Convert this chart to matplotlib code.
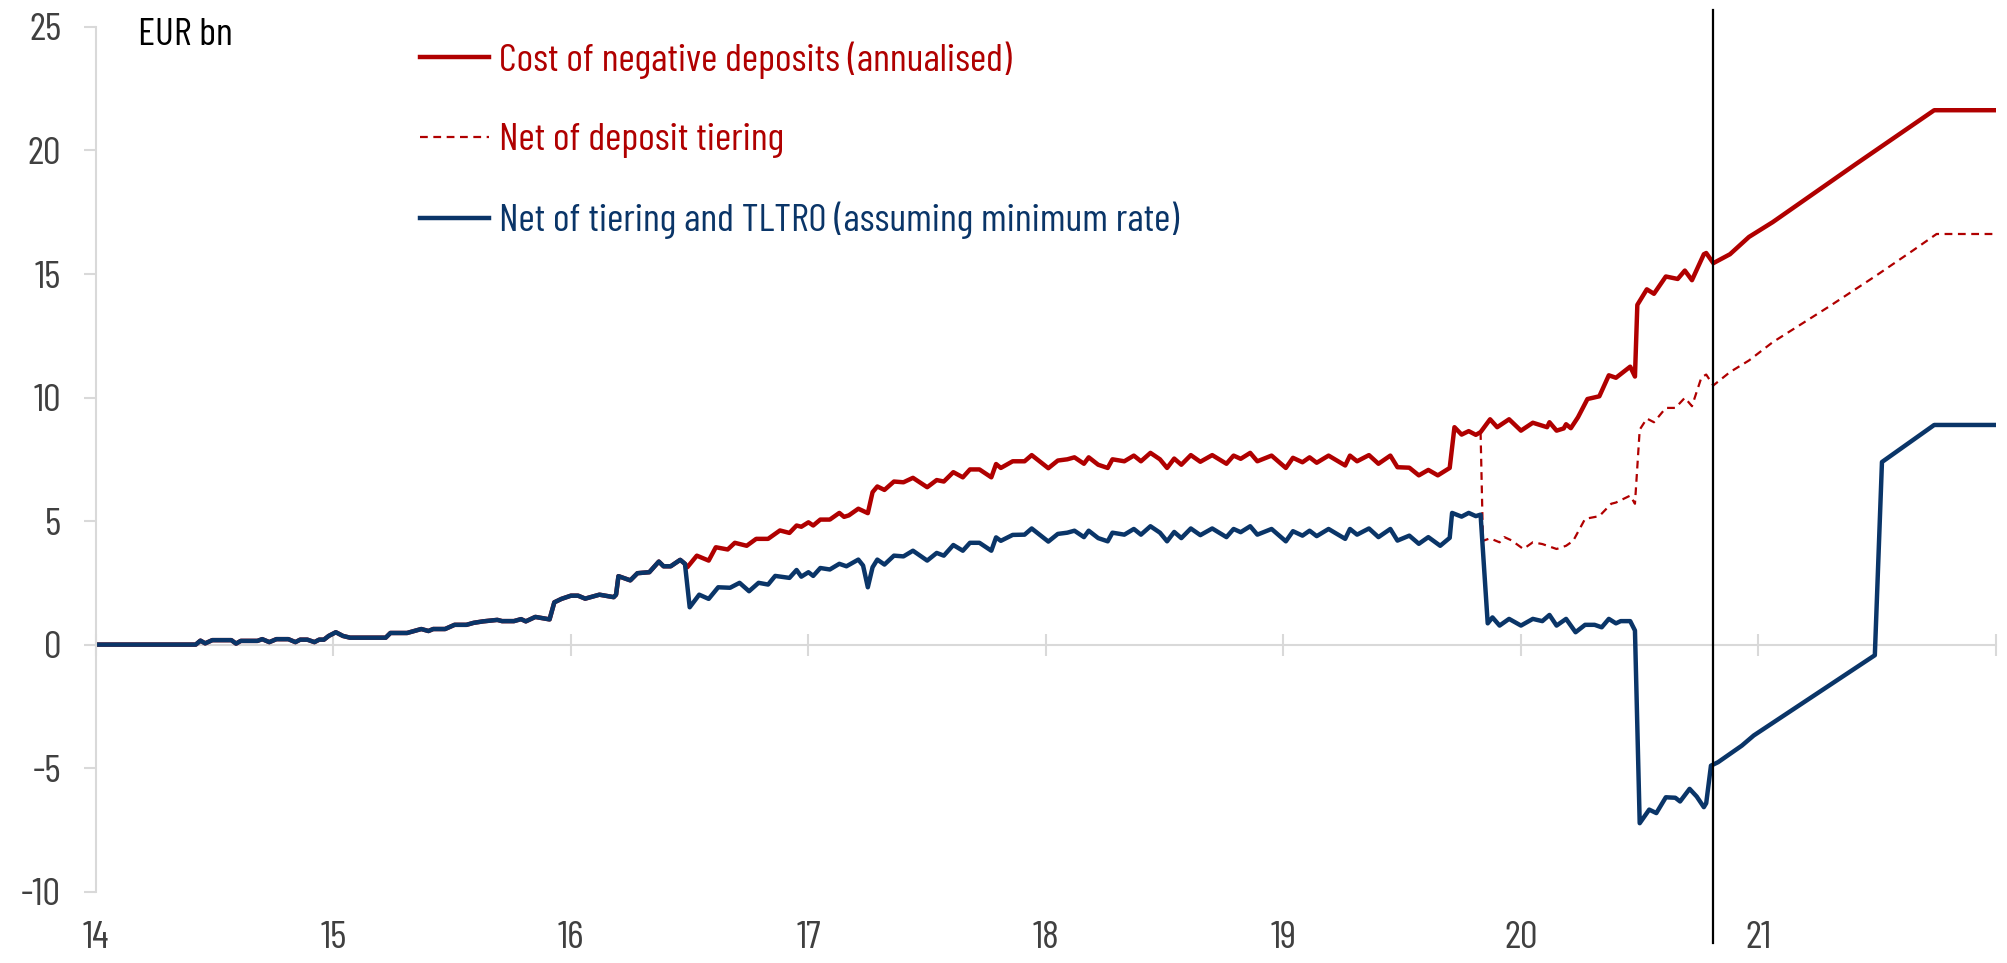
import matplotlib
matplotlib.use('Agg')
import matplotlib.pyplot as plt

plt.rcParams['font.family'] = ['Barlow Condensed', 'Roboto Condensed',
                               'IBM Plex Sans Condensed', 'DejaVu Sans']
plt.rcParams['axes.unicode_minus'] = False

RED = '#B00000'
BLUE = '#0A3568'
GREY = '#D9D9D9'
TXT = '#404040'
FS = 28.5

# --- data (years, EUR bn) ---
# before mid-2016 all three series coincide
early_x = [14.00, 14.42, 14.44, 14.46, 14.49, 14.57, 14.59, 14.61, 14.68, 14.70,
           14.73, 14.76, 14.81, 14.84, 14.86, 14.89, 14.92, 14.94, 14.96, 14.98,
           15.01, 15.04, 15.07, 15.22, 15.24, 15.31, 15.34, 15.37, 15.40, 15.42,
           15.47, 15.51, 15.56, 15.59, 15.63, 15.69, 15.71, 15.76, 15.79, 15.81,
           15.85, 15.91, 15.93, 15.96, 16.00, 16.03, 16.06, 16.12, 16.18, 16.19,
           16.20, 16.25, 16.28, 16.33, 16.37, 16.39, 16.42, 16.46, 16.48]
early_y = [0.00, 0.00, 0.16, 0.05, 0.18, 0.18, 0.04, 0.15, 0.15, 0.22,
           0.10, 0.22, 0.22, 0.10, 0.20, 0.20, 0.10, 0.20, 0.20, 0.35,
           0.50, 0.35, 0.28, 0.28, 0.47, 0.47, 0.55, 0.63, 0.55, 0.63,
           0.63, 0.80, 0.80, 0.88, 0.94, 1.00, 0.95, 0.95, 1.03, 0.94,
           1.12, 1.02, 1.71, 1.85, 1.98, 1.98, 1.86, 2.02, 1.92, 2.02,
           2.77, 2.60, 2.89, 2.93, 3.36, 3.17, 3.17, 3.43, 3.27]

# cost of negative deposits (annualised)
cost_x = [16.49, 16.53, 16.58, 16.61, 16.66, 16.69, 16.74, 16.78, 16.83, 16.88,
          16.92, 16.95, 16.97, 17.00, 17.02, 17.05, 17.09, 17.13, 17.15, 17.17,
          17.21, 17.25, 17.27, 17.29, 17.32, 17.36, 17.40, 17.44, 17.50, 17.54,
          17.57, 17.61, 17.65, 17.68, 17.72, 17.77, 17.79, 17.81, 17.86, 17.91,
          17.94, 18.01, 18.05, 18.09, 18.12, 18.16, 18.18, 18.22, 18.26, 18.28,
          18.33, 18.37, 18.40, 18.44, 18.48, 18.51, 18.54, 18.57, 18.61, 18.65,
          18.70, 18.76, 18.79, 18.82, 18.86, 18.89, 18.95, 19.01, 19.04, 19.08,
          19.11, 19.14, 19.19, 19.26, 19.28, 19.31, 19.36, 19.40, 19.45, 19.48,
          19.53, 19.57, 19.61, 19.65, 19.70, 19.72, 19.75, 19.78, 19.81, 19.83,
          19.87, 19.90, 19.95, 20.00, 20.05, 20.11, 20.12, 20.15, 20.18, 20.19,
          20.21, 20.24, 20.28, 20.33, 20.37, 20.40, 20.46, 20.48, 20.49, 20.53,
          20.56, 20.61, 20.66, 20.69, 20.72, 20.77, 20.78, 20.81, 20.88, 20.96,
          21.06, 21.41, 21.74, 22.00]
cost_y = [3.13, 3.60, 3.40, 3.94, 3.85, 4.12, 4.00, 4.28, 4.28, 4.62,
          4.52, 4.82, 4.77, 4.95, 4.82, 5.06, 5.06, 5.33, 5.17, 5.23,
          5.50, 5.32, 6.17, 6.40, 6.26, 6.60, 6.57, 6.75, 6.37, 6.66,
          6.60, 6.98, 6.77, 7.09, 7.09, 6.77, 7.31, 7.15, 7.42, 7.42,
          7.67, 7.14, 7.45, 7.50, 7.58, 7.32, 7.58, 7.28, 7.15, 7.50,
          7.42, 7.65, 7.42, 7.76, 7.50, 7.15, 7.53, 7.28, 7.67, 7.40,
          7.67, 7.32, 7.65, 7.52, 7.76, 7.42, 7.65, 7.15, 7.56, 7.38,
          7.58, 7.36, 7.65, 7.25, 7.65, 7.42, 7.67, 7.32, 7.65, 7.18,
          7.16, 6.85, 7.07, 6.85, 7.15, 8.80, 8.50, 8.64, 8.49, 8.60,
          9.12, 8.80, 9.12, 8.66, 8.98, 8.80, 9.00, 8.66, 8.75, 8.92,
          8.76, 9.20, 9.94, 10.05, 10.90, 10.80, 11.25, 10.85, 13.75, 14.38,
          14.20, 14.90, 14.80, 15.14, 14.75, 15.80, 15.85, 15.44, 15.80, 16.50,
          17.10, 19.45, 21.63, 21.63]

# net of deposit tiering
tier_x = [19.83, 19.84, 19.87, 19.91, 19.93, 19.96, 20.01, 20.05, 20.09, 20.15,
          20.19, 20.22, 20.27, 20.33, 20.38, 20.40, 20.46, 20.48, 20.50, 20.53,
          20.56, 20.61, 20.65, 20.69, 20.72, 20.76, 20.78, 20.81, 20.88, 20.96,
          21.06, 21.30, 21.49, 21.65, 21.75, 22.00]
tier_y = [8.60, 4.20, 4.30, 4.14, 4.35, 4.22, 3.87, 4.14, 4.07, 3.87,
          4.00, 4.20, 5.09, 5.20, 5.70, 5.75, 6.03, 5.70, 8.70, 9.15,
          9.00, 9.58, 9.58, 9.99, 9.65, 10.82, 10.93, 10.49, 11.03, 11.50,
          12.24, 13.70, 14.90, 15.95, 16.62, 16.62]

# net of tiering and TLTRO (assuming minimum rate)
net_x = [16.50, 16.54, 16.58, 16.62, 16.67, 16.71, 16.75, 16.79, 16.83, 16.86,
         16.92, 16.95, 16.97, 17.00, 17.02, 17.05, 17.09, 17.13, 17.16, 17.21,
         17.23, 17.25, 17.27, 17.29, 17.32, 17.36, 17.40, 17.44, 17.50, 17.54,
         17.57, 17.61, 17.65, 17.68, 17.72, 17.77, 17.79, 17.81, 17.86, 17.91,
         17.94, 18.01, 18.05, 18.09, 18.12, 18.16, 18.18, 18.22, 18.26, 18.28,
         18.33, 18.37, 18.40, 18.44, 18.48, 18.51, 18.54, 18.57, 18.61, 18.65,
         18.70, 18.76, 18.79, 18.82, 18.86, 18.89, 18.95, 19.01, 19.04, 19.08,
         19.11, 19.14, 19.19, 19.26, 19.28, 19.31, 19.36, 19.40, 19.45, 19.48,
         19.53, 19.57, 19.61, 19.66, 19.70, 19.71, 19.75, 19.78, 19.81, 19.83,
         19.86, 19.88, 19.91, 19.95, 20.00, 20.05, 20.09, 20.12, 20.15, 20.19,
         20.23, 20.27, 20.31, 20.34, 20.37, 20.40, 20.42, 20.46, 20.48, 20.50,
         20.54, 20.57, 20.61, 20.65, 20.67, 20.71, 20.74, 20.77, 20.78, 20.80,
         20.83, 20.90, 20.93, 20.98, 21.49, 21.52, 21.74, 22.00]
net_y = [1.51, 2.02, 1.85, 2.32, 2.30, 2.50, 2.16, 2.50, 2.43, 2.78,
         2.70, 3.02, 2.75, 2.93, 2.78, 3.10, 3.04, 3.27, 3.17, 3.44,
         3.20, 2.32, 3.13, 3.44, 3.24, 3.60, 3.57, 3.80, 3.40, 3.71,
         3.60, 4.03, 3.80, 4.12, 4.12, 3.80, 4.34, 4.20, 4.44, 4.45,
         4.70, 4.17, 4.48, 4.53, 4.61, 4.35, 4.61, 4.31, 4.18, 4.53,
         4.45, 4.68, 4.45, 4.79, 4.53, 4.18, 4.56, 4.31, 4.70, 4.43,
         4.70, 4.35, 4.68, 4.55, 4.79, 4.45, 4.68, 4.18, 4.59, 4.41,
         4.61, 4.39, 4.68, 4.28, 4.68, 4.45, 4.70, 4.35, 4.68, 4.21,
         4.41, 4.08, 4.35, 4.00, 4.32, 5.33, 5.18, 5.33, 5.20, 5.26,
         0.86, 1.10, 0.77, 1.04, 0.77, 1.04, 0.95, 1.20, 0.77, 1.04,
         0.50, 0.80, 0.80, 0.70, 1.04, 0.86, 0.95, 0.95, 0.57, -7.23,
         -6.68, -6.82, -6.18, -6.20, -6.35, -5.84, -6.15, -6.58, -6.42, -4.90,
         -4.76, -4.29, -4.09, -3.68, -0.43, 7.39, 8.89, 8.89]

labels = ['Cost of negative deposits (annualised)',
          'Net of deposit tiering',
          'Net of tiering and TLTRO (assuming minimum rate)']
year_ticks = [14, 15, 16, 17, 18, 19, 20, 21]
cutoff = 20.81

fig = plt.figure(figsize=(20.07, 9.63), dpi=100)
ax = fig.add_axes([0.0478, 0.0741, 0.9467, 0.8979])

ax.plot(early_x + cost_x, early_y + cost_y, color=RED, lw=3.2, label=labels[0])
ax.plot(tier_x, tier_y, color=RED, lw=1.6, dashes=(3.5, 2.5), label=labels[1])
ax.plot(early_x + net_x, early_y + net_y, color=BLUE, lw=3.2, label=labels[2])

ax.axvline(cutoff, ymin=-0.059, ymax=1.02, color='black', lw=1.6, clip_on=False)

ax.set_xlim(14, 22)
ax.set_ylim(-10, 25)
ax.set_yticks([-10, -5, 0, 5, 10, 15, 20, 25])
ax.set_xticks(year_ticks)
ax.set_xticklabels([str(t) for t in year_ticks])

for s in ['top', 'right', 'bottom']:
    ax.spines[s].set_visible(False)
ax.spines['left'].set_color(GREY)
ax.spines['left'].set_linewidth(1.5)
ax.tick_params(axis='y', direction='out', length=9, width=1.5, color=GREY,
               labelsize=FS, labelcolor=TXT, pad=16)
ax.tick_params(axis='x', length=0, labelsize=FS, labelcolor=TXT, pad=21)

# zero line with the year ticks
sec = ax.secondary_xaxis(10 / 35)
sec.set_xticks(list(range(14, 23)))
sec.set_xticklabels([''] * 9)
sec.tick_params(direction='inout', length=16, width=1.5, color=GREY)
sec.spines['bottom'].set_color(GREY)
sec.spines['bottom'].set_linewidth(1.5)

ax.text(0.022, 0.99, 'EUR bn', transform=ax.transAxes, va='center', ha='left',
        fontsize=FS, color='black')

leg = ax.legend(loc='upper left', bbox_to_anchor=(0.1705, 0.983), frameon=False,
                fontsize=FS, handlelength=1.75, handletextpad=0.24,
                labelspacing=1.1, borderpad=0, borderaxespad=0)
for text, line in zip(leg.get_texts(), leg.get_lines()):
    text.set_color(line.get_color())

fig.savefig('out.png', dpi=100)
